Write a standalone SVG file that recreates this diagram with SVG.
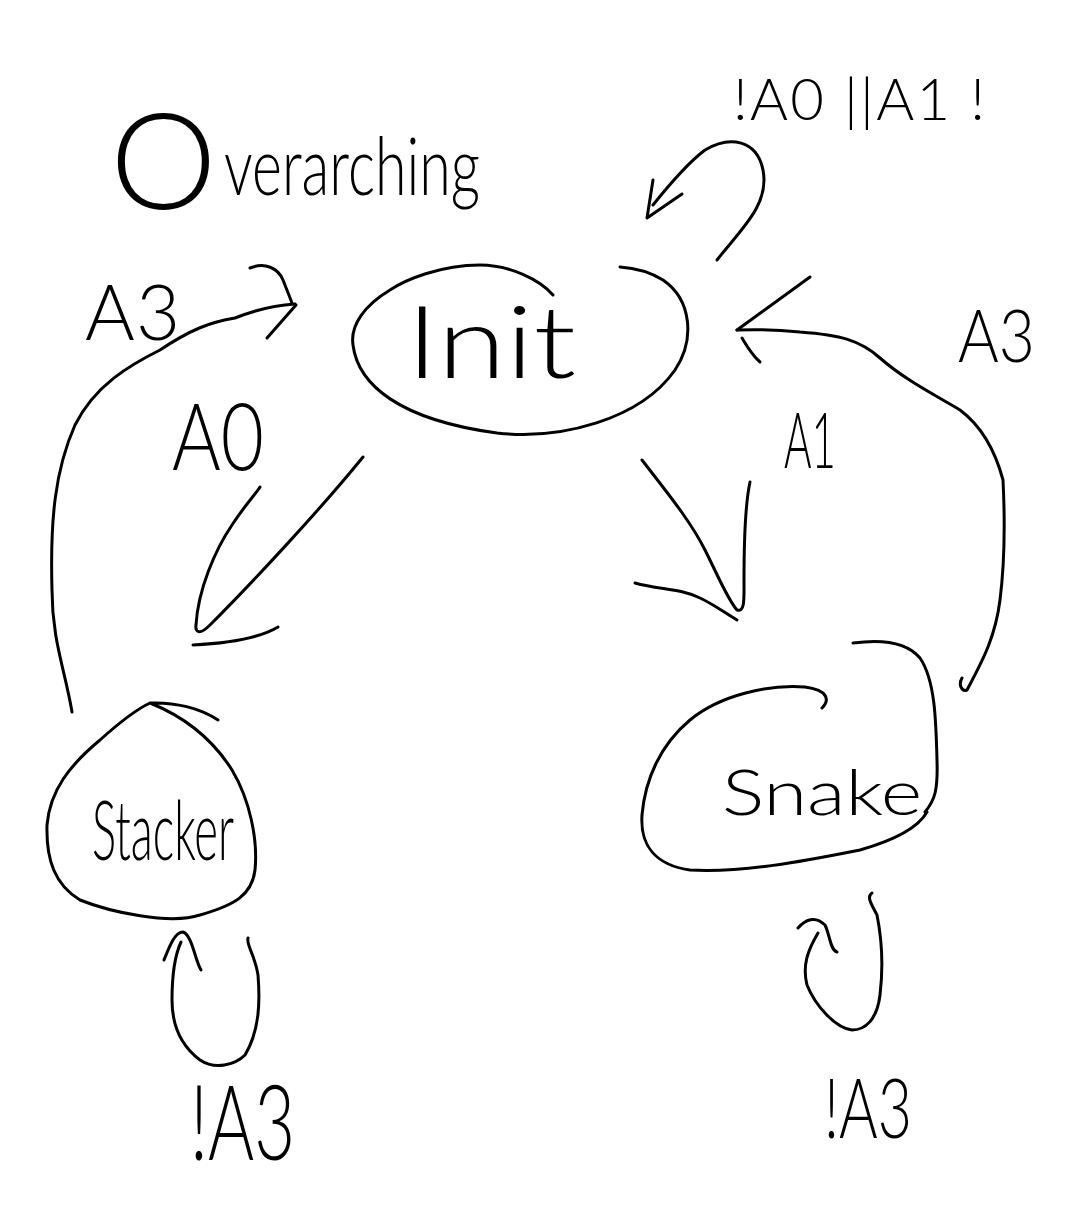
<svg xmlns="http://www.w3.org/2000/svg" width="1078" height="1223" viewBox="0 0 1078 1223">
<style>
.ink{fill:none;stroke:#000;stroke-width:3;stroke-linecap:round;stroke-linejoin:round}
.t{font-family:Lato,"Liberation Sans","DejaVu Sans",sans-serif;font-weight:300;fill:#000}
</style>
<rect width="1078" height="1223" fill="#fff"/>
<g id="title">
<text class="t" x="110" y="209"><tspan font-size="135">O</tspan><tspan x="224" y="195" font-size="80" textLength="256" lengthAdjust="spacingAndGlyphs">verarching</tspan></text>
</g>
<g id="init">
<path class="ink" d="M553,295 C540,280 510,265 480,265 C440,265 405,280 390,290 C365,305 350,325 353,345 C358,385 400,420 497,433 C560,440 640,420 675,370 C695,340 692,300 663,280 C650,272 635,268 620,267"/>
<text class="t" x="406" y="378" font-size="100" textLength="170" lengthAdjust="spacingAndGlyphs">Init</text>
</g>
<g id="stacker">
<path class="ink" d="M150,703 C180,715 210,735 232,770 C250,800 258,840 255,870 C252,895 235,905 200,915 C170,925 110,912 80,900 C55,885 46,860 47,825 C50,790 70,765 100,740 C120,722 135,710 150,703 C175,702 200,708 218,720"/>
<text class="t" x="92" y="860" font-size="82" textLength="142" lengthAdjust="spacingAndGlyphs">Stacker</text>
</g>
<g id="snake">
<path class="ink" d="M853,643 C875,640 905,640 920,658 C935,680 936,720 937,760 C938,790 935,800 925,812"/>
<path class="ink" d="M822,708 C830,700 828,690 805,687 C770,684 720,695 690,720 C660,745 645,780 642,815 C640,845 655,865 690,870 C740,873 800,862 860,850 C895,840 918,828 927,812"/>
<text class="t" x="722" y="815" font-size="64" textLength="200" lengthAdjust="spacingAndGlyphs">Snake</text>
</g>
<g id="connectors">
<path class="ink" d="M717,260 C740,230 770,205 763,170 C757,140 730,135 705,150 C685,165 665,190 653,205"/>
<path class="ink" d="M653,180 L647,218 L682,194"/>
<path class="ink" d="M72,712 C65,670 52,640 52,590 C50,520 55,470 75,425 C95,385 130,365 160,350 C190,330 210,322 235,318 C260,308 280,305 295,304"/>
<path class="ink" d="M250,268 C265,262 278,268 283,280 C287,290 290,298 292,303"/>
<path class="ink" d="M296,305 L267,338"/>
<path class="ink" d="M363,457 C320,510 250,585 210,625 C200,635 195,633 196,625 C198,590 215,550 232,525 C245,505 255,495 260,487"/>
<path class="ink" d="M193,645 C230,643 260,638 278,627"/>
<path class="ink" d="M642,460 C665,490 690,520 705,550 C720,580 728,600 737,610 C745,612 744,600 744,580 C744,540 745,505 750,482"/>
<path class="ink" d="M635,583 C660,590 680,588 700,598 C715,605 728,615 737,620"/>
<path class="ink" d="M962,678 C958,685 962,692 967,690 C980,665 995,640 1000,600 C1005,560 1005,520 1003,480 C995,450 980,425 960,410 C935,395 905,380 880,358 C860,340 840,335 800,332 C780,330 760,329 737,330"/>
<path class="ink" d="M810,277 L737,330"/>
<path class="ink" d="M742,338 C748,348 752,355 760,362"/>
<path class="ink" d="M248,938 C246,945 255,955 258,975 C260,1000 260,1030 245,1055 C235,1065 215,1070 200,1060 C180,1045 172,1025 172,1000 C172,975 175,955 181,942"/>
<path class="ink" d="M164,960 C170,945 175,932 183,932 C192,935 195,960 201,970"/>
<path class="ink" d="M872,893 C866,897 872,905 877,915 C882,940 883,970 880,995 C877,1020 865,1030 852,1030 C835,1028 815,1005 807,985 C802,965 808,950 818,933"/>
<path class="ink" d="M798,928 C805,920 815,915 825,925 C830,935 830,950 837,952"/>
</g>
<g id="labels">
<text class="t" x="733" y="120" font-size="58" textLength="252" lengthAdjust="spacing">!A0 ||A1 !</text>
<text class="t" x="85" y="340" font-size="76" textLength="95" lengthAdjust="spacing">A3</text>
<text class="t" x="172" y="470" font-size="92" textLength="92" lengthAdjust="spacingAndGlyphs">A0</text>
<text class="t" x="784" y="468" font-size="76" textLength="52" lengthAdjust="spacingAndGlyphs">A1</text>
<text class="t" x="958" y="362" font-size="72" textLength="77" lengthAdjust="spacingAndGlyphs">A3</text>
<text class="t" x="190" y="1160" font-size="105" textLength="105" lengthAdjust="spacingAndGlyphs">!A3</text>
<text class="t" x="824" y="1138" font-size="82" textLength="88" lengthAdjust="spacingAndGlyphs">!A3</text>
</g>
</svg>
